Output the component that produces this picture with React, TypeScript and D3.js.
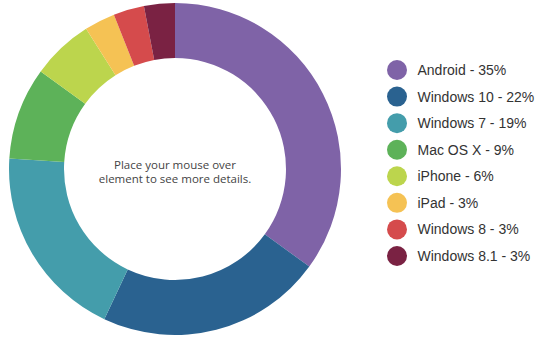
import React from "react";
import * as d3 from "d3";

const categories = ["Android", "Windows 10", "Windows 7", "Mac OS X", "iPhone", "iPad", "Windows 8", "Windows 8.1"];
const values = [35, 22, 19, 9, 6, 3, 3, 3];
const colors = ["#7f63a7", "#2a6290", "#449dab", "#5db259", "#bcd54d", "#f5c254", "#d54b4c", "#7a2243"];
const centerLines = ["Place your mouse over", "element to see more details."];

export default function App() {
  const width = 539;
  const height = 337;
  const cx = 175;
  const cy = 169;
  const outerR = 166;
  const innerR = 111;

  const pie = d3.pie<number>().sort(null).value((d) => d);
  const arcs = pie(values);
  const arcGen = d3.arc<d3.PieArcDatum<number>>().innerRadius(innerR).outerRadius(outerR);

  const legendY = d3.scaleLinear().domain([0, categories.length - 1]).range([70, 256]);

  return (
    <svg width={width} height={height} style={{ position: "absolute", left: 0, top: 0 }}>
      <rect width={width} height={height} fill="#ffffff" />
      <g transform={`translate(${cx},${cy})`}>
        {arcs.map((a, i) => (
          <path key={i} d={arcGen(a) || ""} fill={colors[i]} />
        ))}
        {centerLines.map((t, i) => (
          <text
            key={i}
            x={0}
            y={0 + i * 13.5}
            textAnchor="middle"
            fontFamily="'Open Sans', sans-serif"
            fontSize={11.5}
            fill="#444"
          >
            {t}
          </text>
        ))}
      </g>
      <g>
        {categories.map((c, i) => (
          <g key={c} transform={`translate(0,${legendY(i)})`}>
            <circle cx={397} cy={0} r={10} fill={colors[i]} />
            <text x={417.5} y={5} fontFamily="'Liberation Sans', Arial, sans-serif" fontSize={14} fill="#333">
              {`${c} - ${values[i]}%`}
            </text>
          </g>
        ))}
      </g>
    </svg>
  );
}
